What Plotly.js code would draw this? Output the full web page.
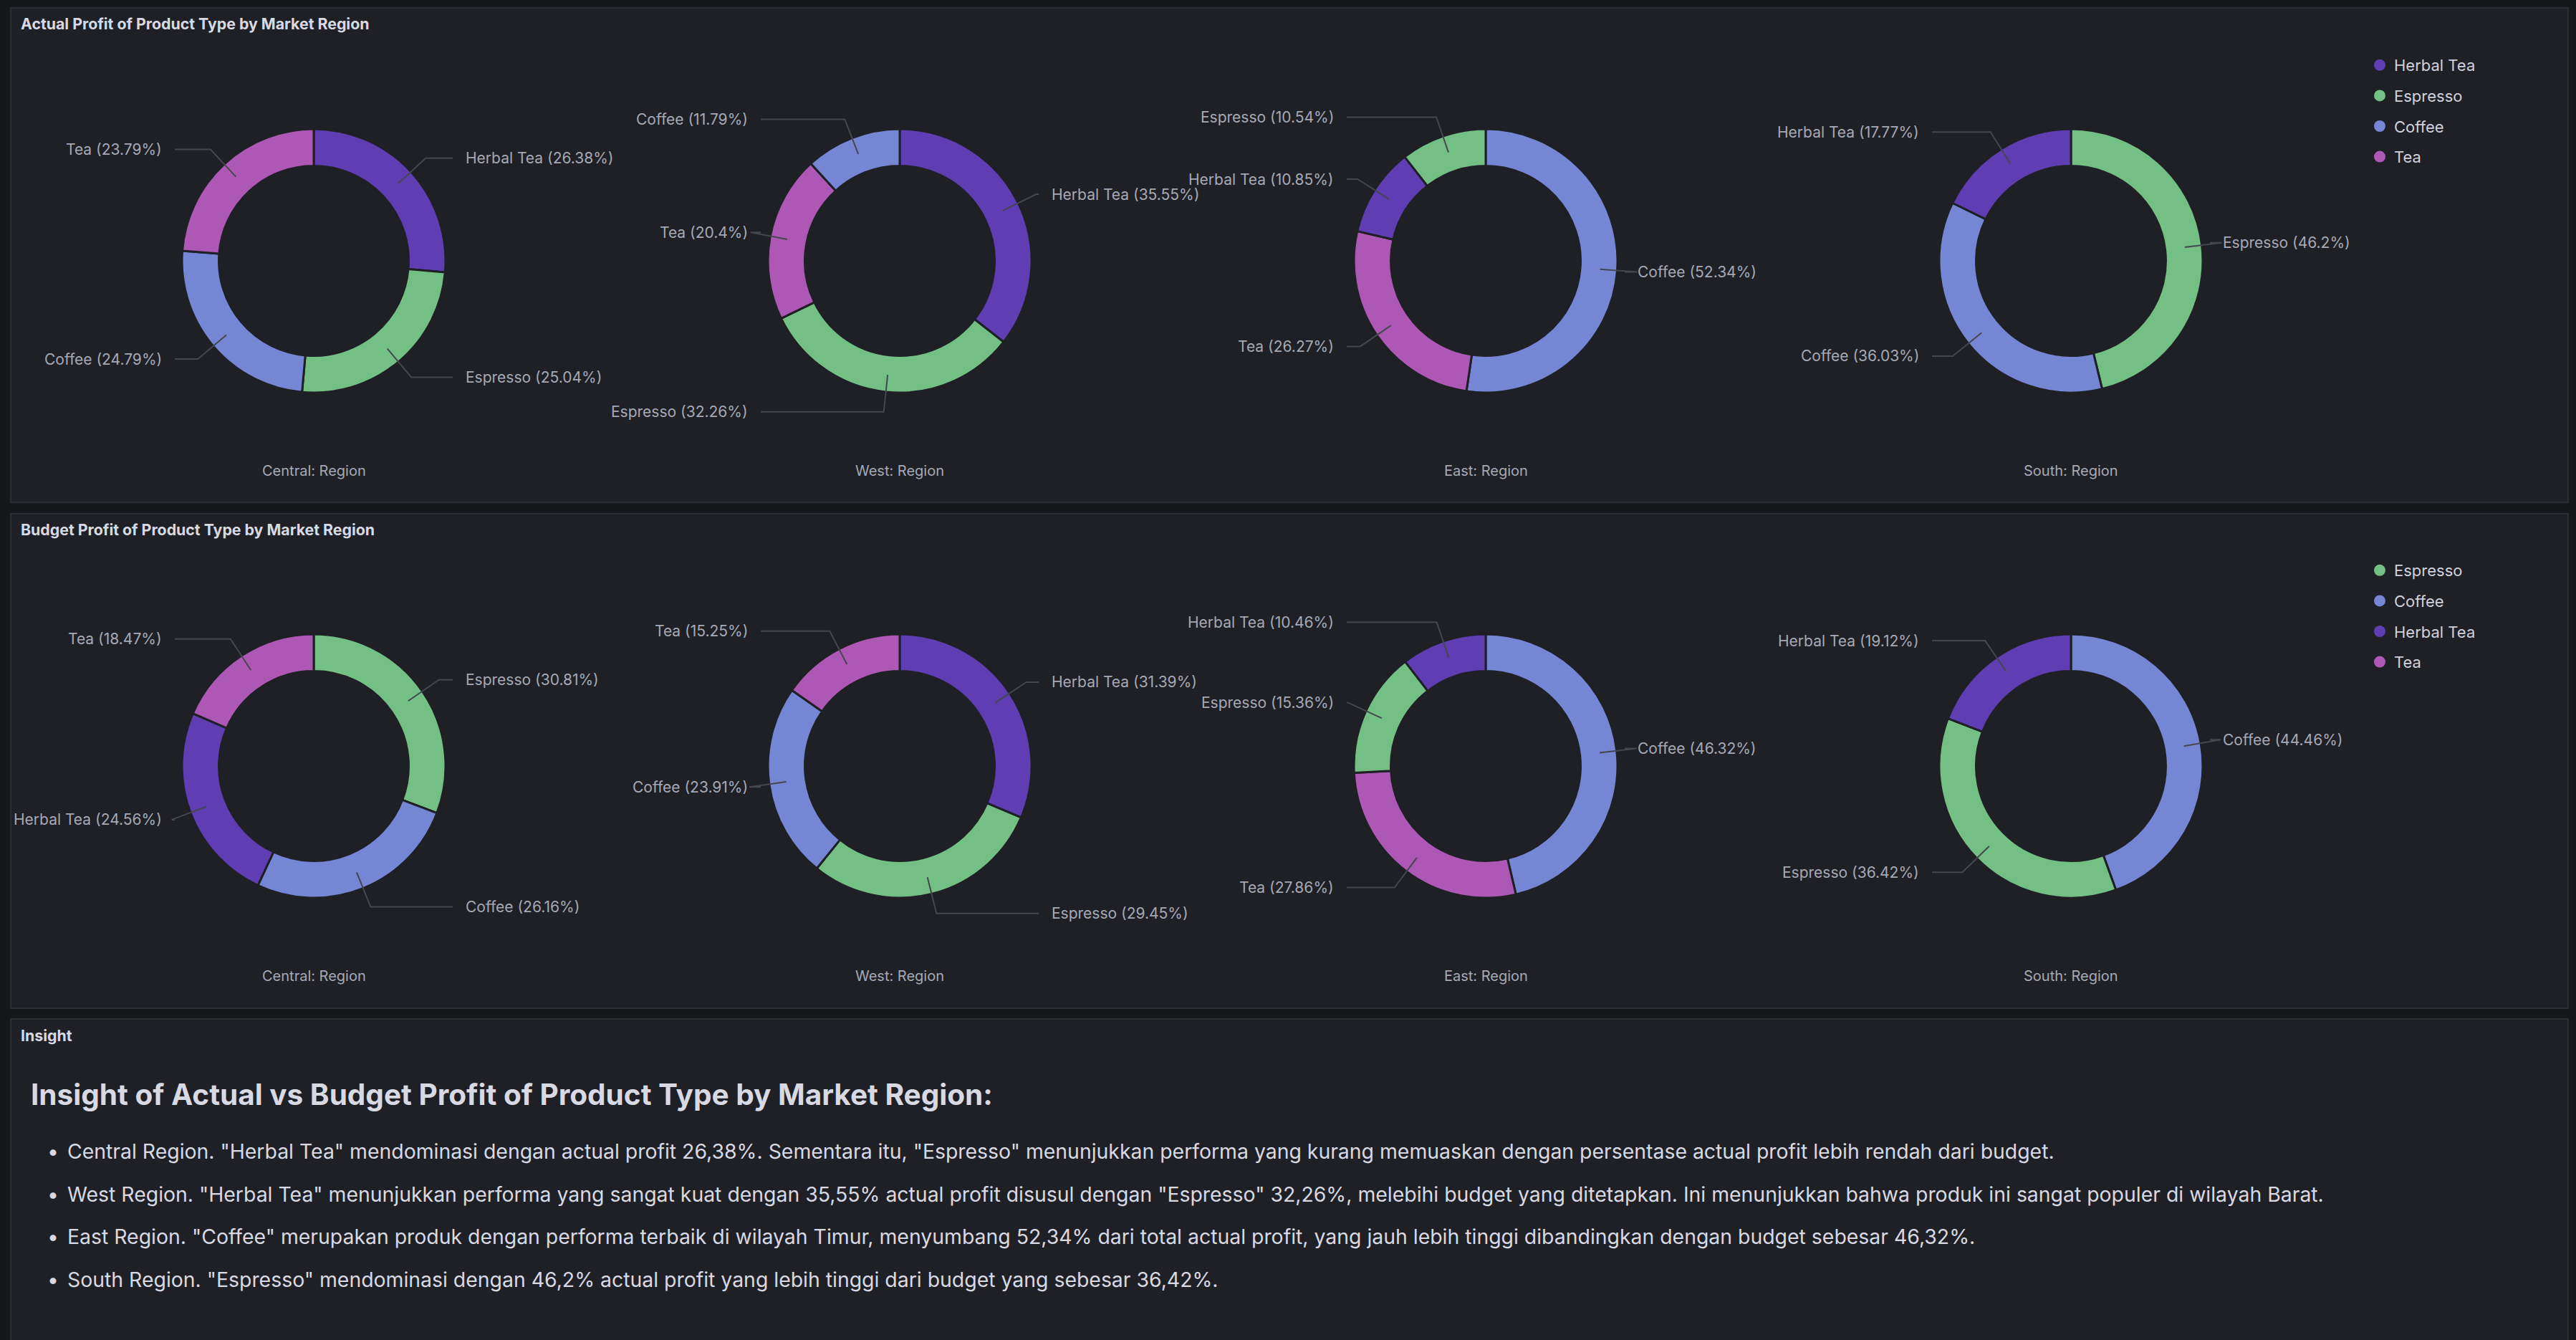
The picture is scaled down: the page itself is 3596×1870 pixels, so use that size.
<!DOCTYPE html>
<html>
<head>
<meta charset="utf-8">
<script src="https://cdn.plot.ly/plotly-3.0.1.min.js"></script>
<style>
html,body{margin:0;padding:0;background:#16171b;overflow:hidden;}
#chart{width:3596px;height:1870px;}
</style>
</head>
<body>
<div id="chart"></div>
<script>
// ---------------- DATA ----------------
const regions = ['Central', 'West', 'East', 'South'];
const products = ['Herbal Tea', 'Espresso', 'Coffee', 'Tea'];

// Actual profit share (%) per region, values in `products` order (null = no slice)
const actualCentral = [26.38, 25.04, 24.79, 23.79];
const actualWest    = [35.55, 32.26, 11.79, 20.4];
const actualEast    = [10.85, 10.54, 52.34, 26.27];
const actualSouth   = [17.77, 46.2, 36.03, null];

// Budget profit share (%) per region, values in `products` order
const budgetCentral = [24.56, 30.81, 26.16, 18.47];
const budgetWest    = [31.39, 29.45, 23.91, 15.25];
const budgetEast    = [10.46, 15.36, 46.32, 27.86];
const budgetSouth   = [19.12, 36.42, 44.46, null];

const legendActual = ['Herbal Tea', 'Espresso', 'Coffee', 'Tea'];
const legendBudget = ['Espresso', 'Coffee', 'Herbal Tea', 'Tea'];

const panelTitles = ['Actual Profit of Product Type by Market Region',
                     'Budget Profit of Product Type by Market Region',
                     'Insight'];
const insightHeading = 'Insight of Actual vs Budget Profit of Product Type by Market Region:';
const insightBullets = [
  'Central Region. "Herbal Tea" mendominasi dengan actual profit 26,38%. Sementara itu, "Espresso" menunjukkan performa yang kurang memuaskan dengan persentase actual profit lebih rendah dari budget.',
  'West Region. "Herbal Tea" menunjukkan performa yang sangat kuat dengan 35,55% actual profit disusul dengan "Espresso" 32,26%, melebihi budget yang ditetapkan. Ini menunjukkan bahwa produk ini sangat populer di wilayah Barat.',
  'East Region. "Coffee" merupakan produk dengan performa terbaik di wilayah Timur, menyumbang 52,34% dari total actual profit, yang jauh lebih tinggi dibandingkan dengan budget sebesar 46,32%.',
  'South Region. "Espresso" mendominasi dengan 46,2% actual profit yang lebih tinggi dari budget yang sebesar 36,42%.'
];

// ---------------- STYLE / LAYOUT ----------------
const W = 3596, H = 1870;
const canvasBg = '#16171b';
const panelBg = '#1f2025';
const panelBorder = '#2c2e34';
const titleColor = '#d8d9e2';
const labelColor = '#a6a9b5';
const leaderColor = '#45474e';
const FONT = 'Inter, "Noto Sans", sans-serif';
const colors = {
  'Herbal Tea': '#5f3db2',
  'Espresso': '#74bf84',
  'Coffee': '#7486d4',
  'Tea': '#ae58b6'
};

const pieCx = [438, 1256, 2074, 2891];
const rowCy = [364, 1069];
const R = 184;
const HOLE = 0.72;
const panels = [
  {x0: 15, y0: 11, x1: 3585, y1: 701},
  {x0: 15, y0: 717, x1: 3585, y1: 1407},
  {x0: 15, y0: 1422, x1: 3585, y1: 1900}
];

const X = px => px / W;
const Y = py => 1 - py / H;

const traces = [];
const shapes = [];
const annotations = [];

panels.forEach(p => shapes.push({
  type: 'rect', xref: 'paper', yref: 'paper', layer: 'below',
  x0: X(p.x0), x1: X(p.x1), y0: Y(p.y1), y1: Y(p.y0),
  fillcolor: panelBg, line: {color: panelBorder, width: 2}
}));

panelTitles.forEach((t, i) => annotations.push({
  xref: 'paper', yref: 'paper', x: X(27), y: Y([33, 739, 1445][i]),
  xanchor: 'left', yanchor: 'middle', showarrow: false, text: '<b>' + t + '</b>',
  font: {family: FONT, size: 21.3, color: titleColor}
}));

function addPie(values, region, cx, cy) {
  const items = products.map((p, i) => ({label: p, value: values[i]})).filter(d => d.value != null);
  traces.push({
    type: 'pie',
    labels: items.map(d => d.label),
    values: items.map(d => d.value),
    sort: true, direction: 'clockwise', rotation: 0, hole: HOLE,
    domain: {x: [X(cx - R), X(cx + R)], y: [Y(cy + R), Y(cy - R)]},
    marker: {colors: items.map(d => colors[d.label]), line: {color: panelBg, width: 3}},
    textinfo: 'none', hoverinfo: 'none', showlegend: false
  });
  const total = items.reduce((a, d) => a + d.value, 0);
  const sorted = items.slice().sort((a, b) => b.value - a.value);
  let cum = 0;
  sorted.forEach(d => {
    const mid = (cum + d.value / 2) / total * 2 * Math.PI;
    cum += d.value;
    const s = Math.sin(mid), c = Math.cos(mid);
    const right = s >= 0;
    const p0 = [cx + 160 * s, cy - 160 * c];
    const p1 = [cx + 212 * s, cy - 212 * c];
    const p2 = [cx + (right ? 194 : -194), p1[1]];
    shapes.push({
      type: 'path', xref: 'paper', yref: 'paper', layer: 'above',
      path: 'M ' + X(p0[0]) + ',' + Y(p0[1]) + ' L ' + X(p1[0]) + ',' + Y(p1[1]) + ' L ' + X(p2[0]) + ',' + Y(p2[1]),
      line: {color: leaderColor, width: 2}
    });
    annotations.push({
      xref: 'paper', yref: 'paper', showarrow: false,
      x: X(cx + (right ? 210 : -210)), y: Y(p1[1]),
      xanchor: right ? 'left' : 'right', yanchor: 'middle',
      text: d.label + ' (' + d.value + '%)',
      font: {family: FONT, size: 21, color: labelColor}
    });
  });
  annotations.push({
    xref: 'paper', yref: 'paper', showarrow: false,
    x: X(cx), y: Y(cy + 293), xanchor: 'center', yanchor: 'middle',
    text: region + ': Region',
    font: {family: FONT, size: 20, color: labelColor}
  });
}

const actualRows = [actualCentral, actualWest, actualEast, actualSouth];
const budgetRows = [budgetCentral, budgetWest, budgetEast, budgetSouth];
actualRows.forEach((v, i) => addPie(v, regions[i], pieCx[i], rowCy[0]));
budgetRows.forEach((v, i) => addPie(v, regions[i], pieCx[i], rowCy[1]));

// legend entries (circle markers, no data points)
legendActual.forEach((p, i) => traces.push({
  type: 'scatter', mode: 'markers', x: [null], y: [null], name: p,
  marker: {color: colors[p], size: 16, symbol: 'circle'},
  legend: 'legend', legendgroup: 'a' + i, showlegend: true, hoverinfo: 'skip'
}));
legendBudget.forEach((p, i) => traces.push({
  type: 'scatter', mode: 'markers', x: [null], y: [null], name: p,
  marker: {color: colors[p], size: 16, symbol: 'circle'},
  legend: 'legend2', legendgroup: 'b' + i, showlegend: true, hoverinfo: 'skip'
}));

// insight text
annotations.push({
  xref: 'paper', yref: 'paper', showarrow: false, x: X(41), y: Y(1527),
  xanchor: 'left', yanchor: 'middle', text: '<b>' + insightHeading + '</b>',
  font: {family: FONT, size: 40.5, color: titleColor}
});
const bulletY = [1606, 1666, 1725, 1785];
insightBullets.forEach((t, i) => {
  annotations.push({
    xref: 'paper', yref: 'paper', showarrow: false, x: X(64), y: Y(bulletY[i]),
    xanchor: 'left', yanchor: 'middle', text: '•',
    font: {family: FONT, size: 28.4, color: titleColor}
  });
  annotations.push({
    xref: 'paper', yref: 'paper', showarrow: false, x: X(92), y: Y(bulletY[i]),
    xanchor: 'left', yanchor: 'middle', text: t,
    font: {family: FONT, size: 28.4, color: titleColor}
  });
});

const legendCommon = {
  xanchor: 'left', yanchor: 'top', bgcolor: 'rgba(0,0,0,0)', borderwidth: 0,
  font: {family: FONT, size: 22, color: '#d0d1dc'}, tracegroupgap: 11,
  itemclick: false, itemdoubleclick: false
};

const layout = {
  width: W, height: H,
  margin: {l: 0, r: 0, t: 0, b: 0, pad: 0},
  paper_bgcolor: canvasBg, plot_bgcolor: 'rgba(0,0,0,0)',
  showlegend: true,
  xaxis: {visible: false, domain: [0, 0.01]},
  yaxis: {visible: false, domain: [0, 0.01]},
  legend: Object.assign({x: X(3302), y: Y(70)}, legendCommon),
  legend2: Object.assign({x: X(3302), y: Y(775)}, legendCommon),
  shapes: shapes,
  annotations: annotations,
  font: {family: FONT}
};

Plotly.newPlot('chart', traces, layout, {displayModeBar: false, staticPlot: true});
</script>
</body>
</html>
